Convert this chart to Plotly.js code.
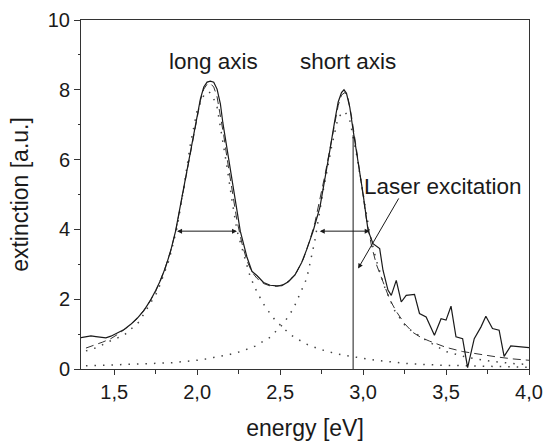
<!DOCTYPE html>
<html>
<head>
<meta charset="utf-8">
<script src="https://cdn.plot.ly/plotly-3.0.1.min.js"></script>
<style>html,body{margin:0;padding:0;background:#fff;}#chart{width:545px;height:445px;}</style>
</head>
<body>
<div id="chart"></div>
<script>
// Measured extinction spectrum (solid)
const measuredEnergy = [1.30,1.33,1.36,1.39,1.42,1.45,1.48,1.50,1.53,1.56,1.60,1.64,1.68,1.72,1.75,1.78,1.81,1.84,1.87,1.90,1.93,1.96,1.99,2.02,2.04,2.06,2.08,2.10,2.12,2.14,2.155,2.18,2.21,2.235,2.26,2.30,2.33,2.36,2.40,2.44,2.48,2.51,2.55,2.59,2.63,2.66,2.70,2.74,2.77,2.80,2.83,2.85,2.87,2.885,2.90,2.92,2.94,2.97,3.00,3.03,3.06,3.10,3.12,3.15,3.17,3.20,3.23,3.26,3.31,3.34,3.38,3.43,3.47,3.50,3.53,3.56,3.60,3.63,3.67,3.71,3.74,3.78,3.82,3.85,3.89,4.00];
const measuredExt = [0.90,0.92,0.95,0.93,0.91,0.89,0.94,0.99,1.05,1.13,1.28,1.46,1.68,1.98,2.25,2.55,2.92,3.38,3.95,4.72,5.50,6.27,7.03,7.75,8.08,8.22,8.25,8.22,8.02,7.60,7.05,6.30,5.50,4.70,3.95,3.21,2.80,2.68,2.48,2.40,2.38,2.39,2.50,2.70,3.05,3.42,3.97,4.64,5.41,6.27,7.13,7.65,7.92,8.00,7.90,7.50,6.84,5.98,5.02,3.97,3.59,3.45,2.83,2.26,2.11,2.54,1.92,2.11,2.14,1.59,1.49,0.97,1.44,1.40,1.80,0.92,0.87,0.04,0.87,1.20,1.51,1.16,1.11,0.36,0.66,0.61];

// Fit (dashed)
const fitEnergy = [1.33,1.38,1.43,1.48,1.53,1.58,1.64,1.70,1.75,1.80,1.84,1.87,1.90,1.93,1.96,1.99,2.02,2.04,2.06,2.08,2.10,2.12,2.14,2.16,2.18,2.21,2.24,2.27,2.30,2.33,2.36,2.40,2.44,2.48,2.52,2.56,2.60,2.64,2.68,2.71,2.74,2.77,2.80,2.83,2.85,2.87,2.89,2.91,2.93,2.96,2.99,3.02,3.05,3.08,3.12,3.16,3.20,3.25,3.30,3.35,3.40,3.50,3.60,3.70,3.80,3.90,4.00];
const fitExt = [0.60,0.68,0.77,0.87,1.02,1.20,1.45,1.82,2.22,2.80,3.38,3.93,4.70,5.48,6.25,7.00,7.70,8.02,8.16,8.18,8.08,7.80,7.30,6.70,6.05,5.10,4.25,3.60,3.10,2.78,2.60,2.45,2.38,2.37,2.42,2.55,2.78,3.15,3.70,4.20,4.85,5.55,6.30,7.10,7.55,7.85,7.92,7.75,7.25,6.30,5.25,4.30,3.55,3.00,2.50,2.00,1.65,1.30,1.05,0.90,0.80,0.62,0.50,0.42,0.35,0.29,0.25];

// Long-axis Lorentzian (dotted)
const longEnergy = [1.33,1.40,1.46,1.56,1.65,1.76,1.83,1.88,1.92,1.96,2.00,2.04,2.07,2.09,2.12,2.15,2.18,2.21,2.24,2.28,2.32,2.36,2.41,2.47,2.56,2.65,2.73,2.82,2.90,3.08,3.28,3.46,3.70,4.00];
const longExt = [0.52,0.62,0.77,0.97,1.35,2.21,3.11,4.07,5.21,6.46,7.41,7.84,7.95,7.85,7.51,6.70,5.79,4.83,3.97,3.30,2.64,2.21,1.78,1.40,0.99,0.73,0.58,0.46,0.38,0.25,0.15,0.11,0.08,0.05];

// Short-axis Lorentzian (dotted)
const shortEnergy = [1.33,1.51,1.68,1.85,2.02,2.10,2.19,2.27,2.35,2.44,2.52,2.58,2.62,2.66,2.68,2.71,2.76,2.81,2.85,2.89,2.92,2.96,3.00,3.04,3.08,3.13,3.19,3.26,3.38,3.50,3.63,3.77,3.92,4.00];
const shortExt = [0.09,0.13,0.15,0.18,0.26,0.33,0.41,0.51,0.66,0.91,1.30,1.73,2.16,2.59,3.02,3.70,5.12,6.36,7.22,7.38,7.13,6.17,5.02,3.88,3.11,2.35,1.68,1.20,0.82,0.50,0.33,0.22,0.15,0.13];

// Laser excitation line
const laserEnergy = [2.94, 2.94];
const laserExt = [0, 6.7];

const xTicks = [1.5, 2.0, 2.5, 3.0, 3.5, 4.0];
const yTicks = [0, 2, 4, 6, 8, 10];

const FONT = "'Liberation Sans', Arial, Helvetica, sans-serif";
const INK = '#1a1a1a';

const traces = [
  {x: shortEnergy, y: shortExt, mode: 'lines', line: {color: '#444', width: 1.5, dash: '1.5px,7px'}, hoverinfo: 'skip'},
  {x: longEnergy, y: longExt, mode: 'lines', line: {color: '#444', width: 1.5, dash: '1.5px,7px'}, hoverinfo: 'skip'},
  {x: fitEnergy, y: fitExt, mode: 'lines', line: {color: '#333', width: 1, dash: '8px,5px'}, hoverinfo: 'skip'},
  {x: measuredEnergy, y: measuredExt, mode: 'lines', line: {color: INK, width: 1.2}, hoverinfo: 'skip'},
  {x: laserEnergy, y: laserExt, mode: 'lines', line: {color: INK, width: 1}, hoverinfo: 'skip'}
];

const arrowBase = {xref: 'x', yref: 'y', axref: 'x', ayref: 'y', text: '', showarrow: true,
  arrowcolor: INK, arrowwidth: 1, arrowsize: 1, arrowhead: 2};

const layout = {
  width: 545, height: 445,
  margin: {l: 81, r: 16, t: 20, b: 76},
  paper_bgcolor: '#fff', plot_bgcolor: '#fff',
  showlegend: false,
  separators: ',.',
  font: {family: FONT, color: INK, size: 20},
  xaxis: {
    range: [1.3, 4.0], tickvals: xTicks, tickformat: '.1f',
    ticks: 'outside', ticklen: 5, tickwidth: 1, tickcolor: '#333',
    showline: true, linecolor: '#333', linewidth: 1, mirror: true,
    showgrid: false, zeroline: false,
    tickfont: {family: FONT, size: 20, color: INK},
    minor: {dtick: 0.25, tick0: 1.25, ticks: 'outside', ticklen: 4, tickcolor: '#333', showgrid: false},
    title: {text: 'energy [eV]', font: {family: FONT, size: 23, color: INK}, standoff: 17}
  },
  yaxis: {
    range: [0, 10], tickvals: yTicks,
    ticks: 'outside', ticklen: 6, tickwidth: 1, tickcolor: '#333',
    showline: true, linecolor: '#333', linewidth: 1, mirror: true,
    showgrid: false, zeroline: false,
    tickfont: {family: FONT, size: 20, color: INK},
    minor: {dtick: 1, ticks: 'outside', ticklen: 2, tickcolor: '#333', showgrid: false},
    title: {text: 'extinction [a.u.]', font: {family: FONT, size: 23, color: INK}, standoff: 12}
  },
  annotations: [
    Object.assign({}, arrowBase, {x: 2.24, y: 3.95, ax: 1.87, ay: 3.95, arrowside: 'end+start', startarrowhead: 2}),
    Object.assign({}, arrowBase, {x: 3.04, y: 3.95, ax: 2.73, ay: 3.95, arrowside: 'end+start', startarrowhead: 2}),
    Object.assign({}, arrowBase, {x: 2.97, y: 2.88, ax: 3.22, ay: 4.93}),
    {x: 2.097, y: 8.82, xref: 'x', yref: 'y', text: 'long axis', showarrow: false, font: {family: FONT, size: 22.5, color: INK}},
    {x: 2.91, y: 8.82, xref: 'x', yref: 'y', text: 'short axis', showarrow: false, font: {family: FONT, size: 22.5, color: INK}},
    {x: 3.483, y: 5.22, xref: 'x', yref: 'y', text: 'Laser excitation', showarrow: false, font: {family: FONT, size: 22.5, color: INK}}
  ]
};

Plotly.newPlot('chart', traces, layout, {staticPlot: true, displayModeBar: false});
</script>
</body>
</html>
